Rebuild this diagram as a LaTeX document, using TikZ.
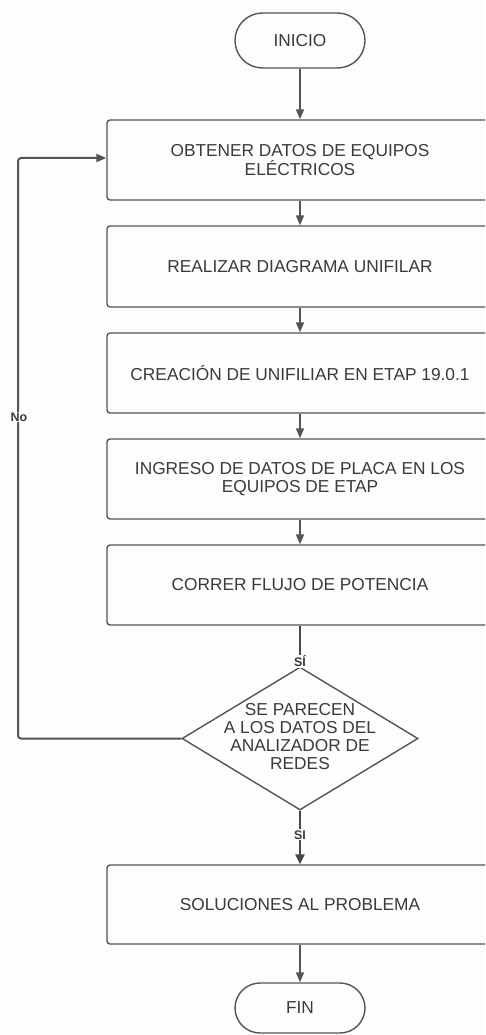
\documentclass[tikz,border=0pt]{standalone}
\usepackage{fontspec}
\setmainfont{Liberation Sans}
\usetikzlibrary{arrows.meta,shapes.geometric,shapes.misc}
\definecolor{ln}{HTML}{555555}
\definecolor{tx}{HTML}{3A3A3A}
\definecolor{bg}{HTML}{FDFDFB}
\tikzset{
  box/.style={draw=ln, line width=1.4pt, rounded corners=3pt, minimum width=386pt, minimum height=80pt, inner sep=0pt, align=center, text=tx, font=\fontsize{17.3}{18.5}\selectfont},
  term/.style={draw=ln, line width=1.4pt, rounded rectangle, minimum width=130pt, minimum height=55pt, inner sep=0pt, text=tx, font=\fontsize{17.3}{18.5}\selectfont},
  dec/.style={draw=ln, line width=1.4pt, diamond, minimum width=236pt, minimum height=143pt, inner sep=0pt},
  dectext/.style={align=center, text=tx, font=\fontsize{17.3}{18}\selectfont, inner sep=0pt},
  conn/.style={draw=ln, line width=1.6pt, -{Triangle[length=10pt,width=8pt]}},
  thick conn/.style={draw=ln!85!black, line width=2.6pt, -{Triangle[length=10pt,width=9pt]}},
  lbl/.style={fill=bg, text=tx, font=\bfseries\fontsize{12.5}{13}\selectfont, inner sep=1pt}
}
\begin{document}
\begin{tikzpicture}[x=1pt,y=-1pt]
\fill[bg] (0,0) rectangle (485,1035);
\clip (0,0) rectangle (485,1035);
\node[term] (inicio) at (300,40.5) {INICIO};
\node[box] (b1) at (300,160) {OBTENER DATOS DE EQUIPOS\\ELÉCTRICOS};
\node[box, minimum height=81pt] (b2) at (300,266.5) {REALIZAR DIAGRAMA UNIFILAR};
\node[box] (b3) at (300,373) {CREACIÓN DE UNIFILIAR EN ETAP 19.0.1};
\node[box] (b4) at (300,479) {INGRESO DE DATOS DE PLACA EN LOS\\EQUIPOS DE ETAP};
\node[box] (b5) at (300,585) {CORRER FLUJO DE POTENCIA};
\node[dec] (d) at (300,738.5) {};
\node[dectext] (dt) at (300,737) {SE PARECEN\\A LOS DATOS DEL\\ANALIZADOR DE\\REDES};
\node[box, minimum height=79pt] (b6) at (300,904.5) {SOLUCIONES AL PROBLEMA};
\node[term, minimum height=50pt] (fin) at (300,1008) {FIN};

\draw[conn] (inicio.south) -- (b1.north);
\draw[conn] (b1.south) -- (b2.north);
\draw[conn] (b2.south) -- (b3.north);
\draw[conn] (b3.south) -- (b4.north);
\draw[conn] (b4.south) -- (b5.north);
\draw[thick conn] (b5.south) -- (d.north) node[lbl, pos=0.88] {SÍ};
\draw[thick conn] (d.south) -- (b6.north) node[lbl, pos=0.45] {SI};
\draw[conn] (b6.south) -- (fin.north);
\coordinate (c1) at (18,738.5);
\coordinate (c2) at (18,158);
\draw[conn, line width=2pt, rounded corners=3pt] (d.west) -- (c1) -- (c2) -- (b1.west |- c2);
\node[lbl] (no) at (19,417) {No};
\end{tikzpicture}
\end{document}
